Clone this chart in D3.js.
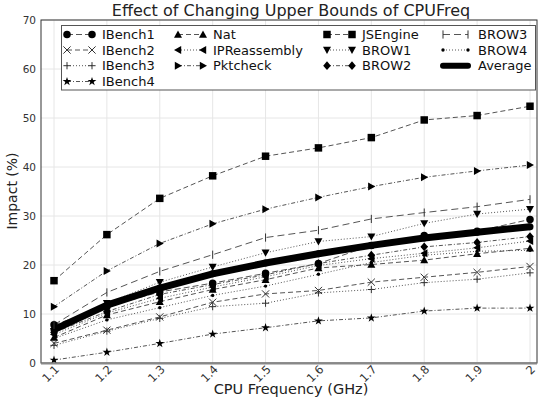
<!DOCTYPE html>
<html><head><meta charset="utf-8">
<script src="https://cdn.jsdelivr.net/npm/d3@7"></script>
<style>body{margin:0;background:#fff}svg{display:block;font-family:"DejaVu Sans",sans-serif}</style>
</head><body><svg id="c" width="540" height="398"></svg>
<script>
const freqs = [1.1,1.2,1.3,1.4,1.5,1.6,1.7,1.8,1.9,2.0];
const yTicks = [0,10,20,30,40,50,60,70];
const IBench1 = [7.8,11.5,14.5,16.3,18.3,20.3,24.0,26.0,26.9,29.3];
const IBench2 = [4.0,6.7,9.4,12.4,14.1,14.8,16.5,17.5,18.5,19.7];
const IBench3 = [3.6,6.5,9.1,11.5,12.2,14.3,15.0,16.4,17.1,18.4];
const IBench4 = [0.6,2.2,4.0,5.9,7.2,8.6,9.2,10.6,11.2,11.2];
const Nat = [5.2,9.8,12.5,15.0,17.0,19.4,20.1,21.0,22.3,23.4];
const IPReassembly = [5.8,10.2,13.2,15.5,17.6,19.9,21.3,22.4,23.5,24.9];
const Pktcheck = [11.5,18.8,24.4,28.4,31.4,33.8,36.0,37.9,39.2,40.4];
const JSEngine = [16.8,26.2,33.6,38.2,42.2,43.9,46.0,49.6,50.5,52.4];
const BROW1 = [6.5,12.2,16.5,19.6,22.5,24.8,25.8,28.5,30.4,31.4];
const BROW2 = [6.2,10.5,14.0,16.0,18.0,20.3,22.0,23.7,24.6,25.8];
const BROW3 = [7.8,14.4,18.7,22.1,25.6,27.1,29.4,30.7,31.9,33.4];
const BROW4 = [5.0,8.8,11.3,13.8,15.7,18.1,20.5,22.0,22.8,23.0];
const Average = [6.8,11.8,15.3,18.2,20.4,22.3,24.0,25.5,26.7,27.8];

const series = [
  {name:"IBench1", values:IBench1, marker:"circle", dash:"6,3"},
  {name:"IBench2", values:IBench2, marker:"x", dash:"5,3"},
  {name:"IBench3", values:IBench3, marker:"plus", dash:"1,2"},
  {name:"IBench4", values:IBench4, marker:"star", dash:"4,2,1,2"},
  {name:"Nat", values:Nat, marker:"tri-up", dash:"5,3"},
  {name:"IPReassembly", values:IPReassembly, marker:"tri-left", dash:"1,2"},
  {name:"Pktcheck", values:Pktcheck, marker:"tri-right", dash:"4,2,1,2"},
  {name:"JSEngine", values:JSEngine, marker:"square", dash:"5,3"},
  {name:"BROW1", values:BROW1, marker:"tri-down", dash:"1,2"},
  {name:"BROW2", values:BROW2, marker:"diamond", dash:"4,2,1,2"},
  {name:"BROW3", values:BROW3, marker:"vline", dash:"7,4"},
  {name:"BROW4", values:BROW4, marker:"point", dash:"1,2"},
  {name:"Average", values:Average, marker:null, dash:null, thick:true}
];

const svg = d3.select("#c");
const L=41, R=537, T=20, B=363;
const x = d3.scaleLinear().domain([1.1,2.0]).range([54,530]);
const y = d3.scaleLinear().domain([0,70]).range([B,T]);

const g = svg.append("g");
g.selectAll(".gx").data(freqs).enter().append("line")
  .attr("x1",d=>x(d)).attr("x2",d=>x(d)).attr("y1",T).attr("y2",B)
  .attr("stroke","#e6e6e6").attr("stroke-width",1);
g.selectAll(".gy").data(yTicks).enter().append("line")
  .attr("x1",L).attr("x2",R).attr("y1",d=>y(d)).attr("y2",d=>y(d))
  .attr("stroke","#e6e6e6").attr("stroke-width",1);

function markerPath(m){
  const s=3.6;
  switch(m){
    case "circle": return d3.symbol(d3.symbolCircle,44)();
    case "square": return d3.symbol(d3.symbolSquare,56)();
    case "diamond": return "M0,-4.4L3.8,0L0,4.4L-3.8,0Z";
    case "star": return d3.symbol(d3.symbolStar,24)();
    case "tri-up": return "M0,-4L4,3.2L-4,3.2Z";
    case "tri-down": return "M0,4L4,-3.2L-4,-3.2Z";
    case "tri-left": return "M-4,0L3.2,-4L3.2,4Z";
    case "tri-right": return "M4,0L-3.2,-4L-3.2,4Z";
    case "x": return `M${-s},${-s}L${s},${s}M${-s},${s}L${s},${-s}`;
    case "plus": return `M${-s},0L${s},0M0,${-s}L0,${s}`;
    case "vline": return `M0,${-s-0.5}L0,${s+0.5}`;
    case "point": return d3.symbol(d3.symbolCircle,9)();
  }
}
function isStroke(m){return m==="x"||m==="plus"||m==="vline";}

const line = d3.line().x((d,i)=>x(freqs[i])).y(d=>y(d));

const plot = svg.append("g");
series.forEach(s=>{
  if(s.thick){
    plot.append("path").datum(s.values).attr("d",line)
      .attr("fill","none").attr("stroke","#000").attr("stroke-width",7).attr("stroke-linejoin","round");
    plot.selectAll(null).data(s.values).enter().append("circle")
      .attr("cx",(d,i)=>x(freqs[i])).attr("cy",d=>y(d)).attr("r",3.5).attr("fill","#000");
  } else {
    plot.append("path").datum(s.values).attr("d",line)
      .attr("fill","none").attr("stroke","#555").attr("stroke-width",1)
      .attr("stroke-dasharray",s.dash);
  }
});
series.forEach(s=>{
  if(!s.marker) return;
  plot.selectAll(null).data(s.values).enter().append("path")
    .attr("transform",(d,i)=>`translate(${x(freqs[i])},${y(d)})`)
    .attr("d",markerPath(s.marker))
    .attr("fill",isStroke(s.marker)?"none":"#000")
    .attr("stroke",isStroke(s.marker)?"#333":"none")
    .attr("stroke-width",1);
});

svg.append("rect").attr("x",L).attr("y",T).attr("width",R-L).attr("height",B-T)
  .attr("fill","none").attr("stroke","#333").attr("stroke-width",1);
svg.append("line").attr("x1",L).attr("x2",R).attr("y1",B+0.5).attr("y2",B+0.5)
  .attr("stroke","#888").attr("stroke-width",2);

svg.selectAll(".yt").data(yTicks).enter().append("text")
  .attr("x",L-5).attr("y",d=>y(d)+4).attr("text-anchor","end")
  .attr("font-size",10.5).attr("fill","#333").text(d=>d);
svg.selectAll(".xt").data(freqs).enter().append("text")
  .attr("transform",d=>`translate(${x(d)+6},${B+7}) rotate(-45)`)
  .attr("text-anchor","end")
  .attr("font-size",11.5).attr("fill","#333").text(d=>d===2?"2":d3.format(".1f")(d));

svg.append("text").attr("x",291).attr("y",394).attr("text-anchor","middle")
  .attr("font-size",14.5).attr("fill","#222").text("CPU Frequency (GHz)");
svg.append("text").attr("x",291).attr("y",16).attr("text-anchor","middle")
  .attr("font-size",16).attr("fill","#222").text("Effect of Changing Upper Bounds of CPUFreq");
svg.append("text").attr("transform","translate(17,191) rotate(-90)").attr("text-anchor","middle")
  .attr("font-size",14).attr("fill","#222").text("Impact (%)");

const lg = svg.append("g");
lg.append("rect").attr("x",61.5).attr("y",25.5).attr("width",474).attr("height",64.5)
  .attr("fill","#fff").attr("stroke","#555").attr("stroke-width",1);
const colX = [67,178,327,443];
const rowY = [34.5,50,65.7,81.5];
const colCounts=[4,3,3,3];
let idx=0;
colCounts.forEach((n,c)=>{
  for(let r=0;r<n;r++){
    const s=series[idx++];
    const x0=colX[c], x1=x0+25, yy=rowY[r];
    if(s.thick){
      lg.append("line").attr("x1",x0).attr("x2",x1).attr("y1",yy).attr("y2",yy)
        .attr("stroke","#000").attr("stroke-width",6).attr("stroke-linecap","round");
    } else {
      lg.append("line").attr("x1",x0).attr("x2",x1).attr("y1",yy).attr("y2",yy)
        .attr("stroke","#555").attr("stroke-width",1).attr("stroke-dasharray",s.dash);
      [x0,x1].forEach(px=>{
        lg.append("path").attr("transform",`translate(${px},${yy})`).attr("d",markerPath(s.marker))
          .attr("fill",isStroke(s.marker)?"none":"#000")
          .attr("stroke",isStroke(s.marker)?"#333":"none");
      });
    }
    lg.append("text").attr("x",x1+10).attr("y",yy+4.5).attr("font-size",13).attr("fill","#111").text(s.name);
  }
});
</script></body></html>
